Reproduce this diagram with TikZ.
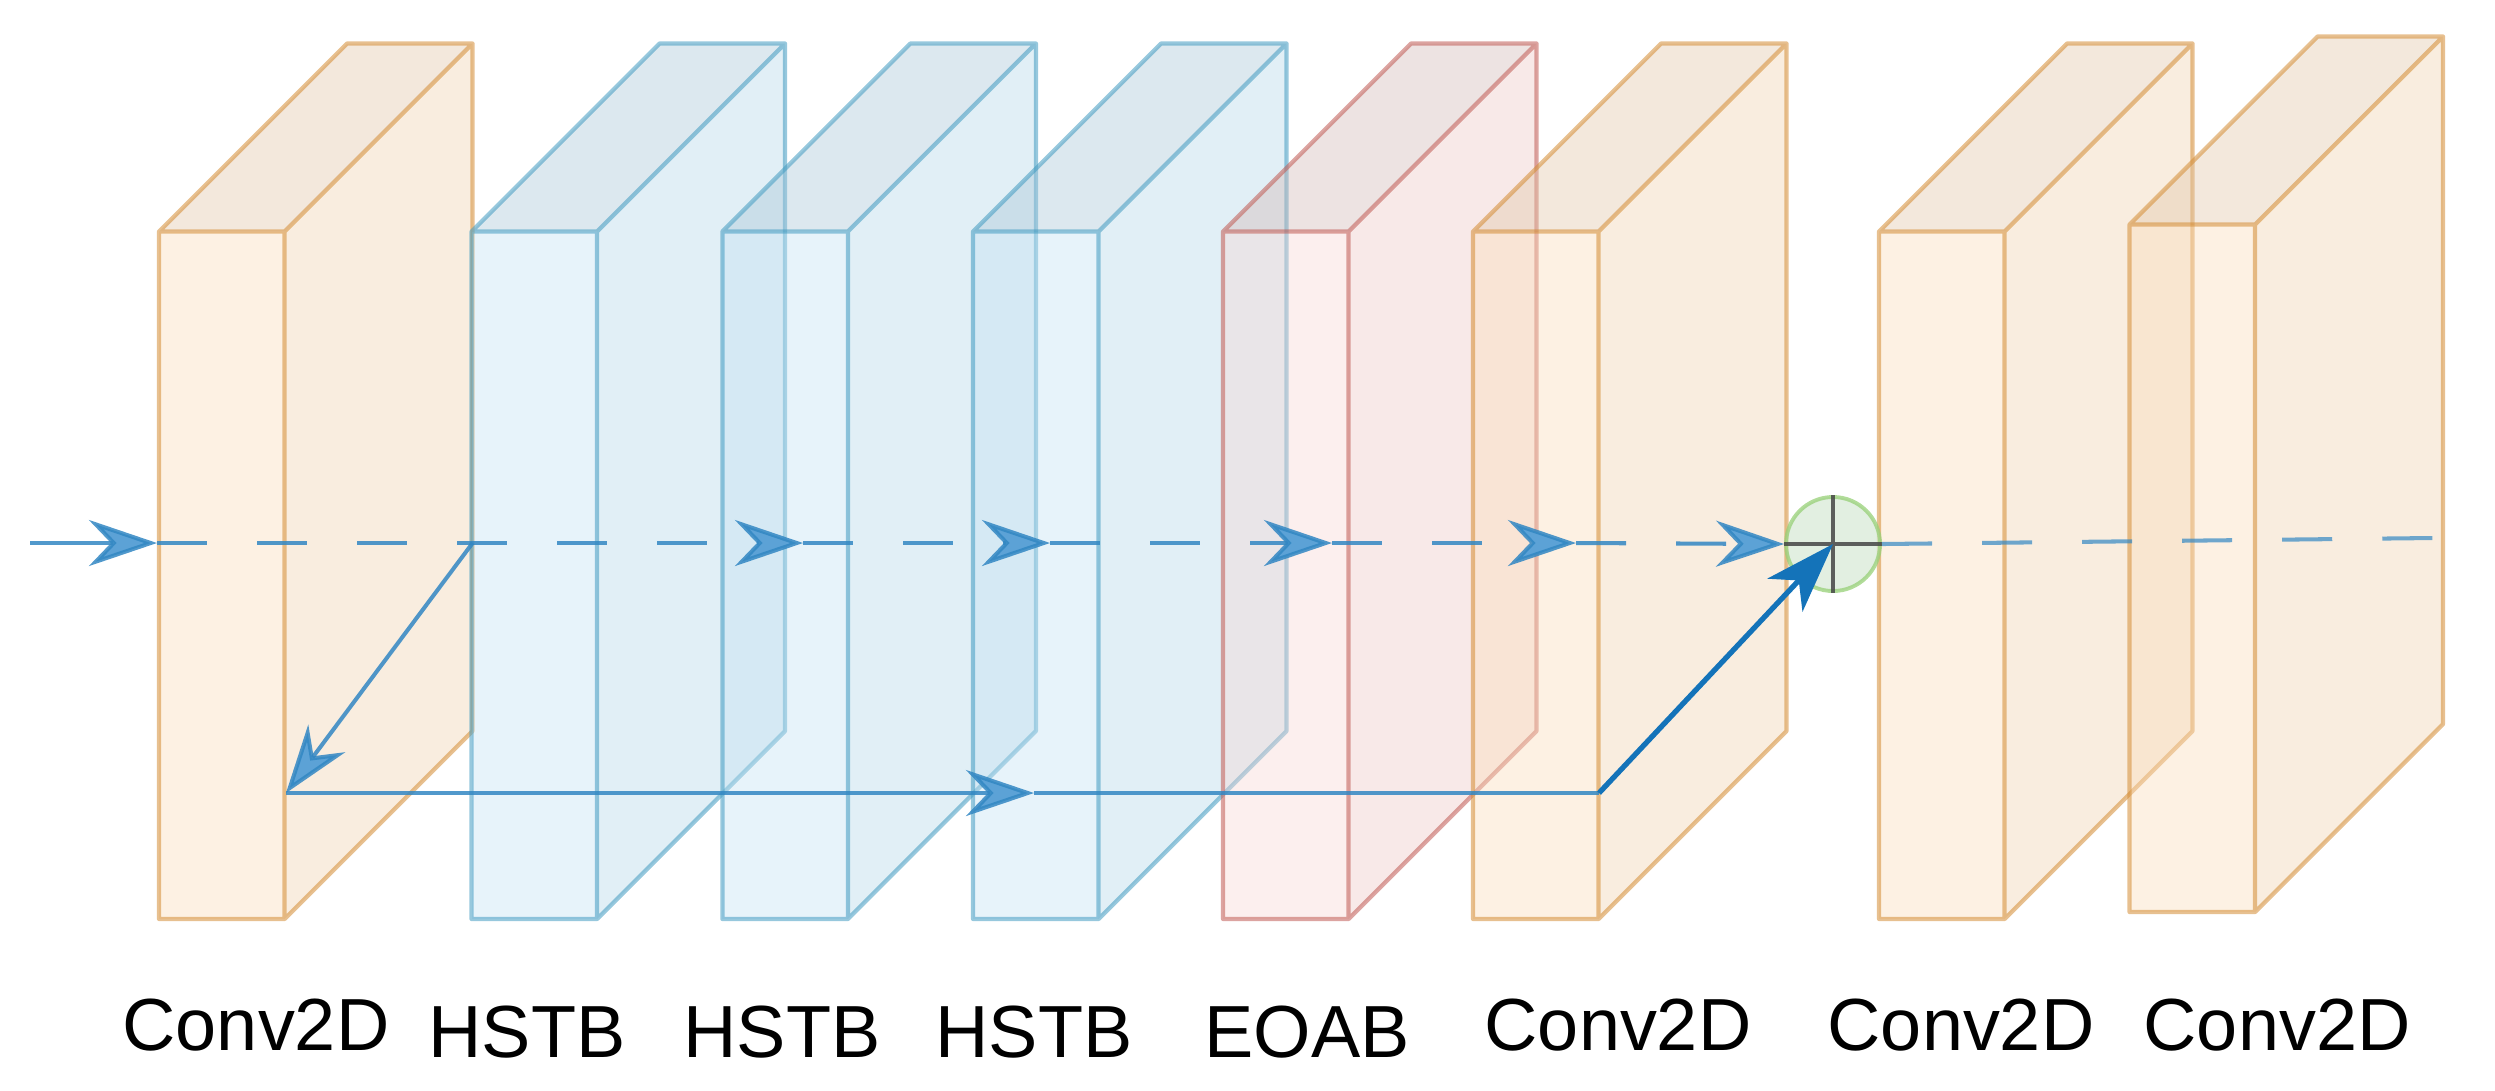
\documentclass[tikz,border=0pt]{standalone}
\usepackage{fontspec}
\newfontfamily\labfont{Liberation Sans}
\usetikzlibrary{arrows.meta}
% face colours (used with fill opacity 0.4)
\definecolor{oFc}{RGB}{250,220,185}
\definecolor{oSc}{RGB}{240,210,175}
\definecolor{oTc}{RGB}{225,198,168}
\definecolor{oLc}{RGB}{212,140,52}
\definecolor{bFc}{RGB}{195,225,242}
\definecolor{bSc}{RGB}{180,215,232}
\definecolor{bTc}{RGB}{168,198,215}
\definecolor{bLc}{RGB}{65,155,193}
\definecolor{rFc}{RGB}{247,215,212}
\definecolor{rSc}{RGB}{237,200,198}
\definecolor{rTc}{RGB}{210,185,183}
\definecolor{rLc}{RGB}{192,90,83}
\definecolor{lineblue}{RGB}{50,135,195}
\definecolor{arrfill}{RGB}{92,162,214}
\definecolor{strongblue}{RGB}{20,115,185}
\definecolor{sumfill}{RGB}{213,232,212}
\definecolor{sumline}{RGB}{151,208,119}
\definecolor{crossgray}{RGB}{70,70,70}
\newcommand{\myCube}[3]{%
  \begin{scope}[shift={(#1,#2)}]
    \fill[#3F] (0,0) rectangle (125.5,687.5);
    \fill[#3S] (125.5,0) -- (313.5,-188) -- (313.5,499.5) -- (125.5,687.5) -- cycle;
    \fill[#3T] (0,0) -- (188,-188) -- (313.5,-188) -- (125.5,0) -- cycle;
    \draw[#3L] (0,0) -- (188,-188) -- (313.5,-188) -- (313.5,499.5) -- (125.5,687.5) -- (0,687.5) -- cycle
               (0,0) -- (125.5,0) -- (313.5,-188)
               (125.5,0) -- (125.5,687.5);
  \end{scope}}
\begin{document}
\begin{tikzpicture}[x=0.01cm,y=-0.01cm,
  oF/.style={fill=oFc,fill opacity=0.4}, oS/.style={fill=oSc,fill opacity=0.4},
  oT/.style={fill=oTc,fill opacity=0.4}, oL/.style={draw=oLc,draw opacity=0.55,line width=1.2pt,line join=round},
  bF/.style={fill=bFc,fill opacity=0.4}, bS/.style={fill=bSc,fill opacity=0.4},
  bT/.style={fill=bTc,fill opacity=0.4}, bL/.style={draw=bLc,draw opacity=0.55,line width=1.2pt,line join=round},
  rF/.style={fill=rFc,fill opacity=0.4}, rS/.style={fill=rSc,fill opacity=0.4},
  rT/.style={fill=rTc,fill opacity=0.4}, rL/.style={draw=rLc,draw opacity=0.55,line width=1.2pt,line join=round},
  lab/.style={anchor=base,inner sep=0pt,font=\labfont\fontsize{21pt}{25pt}\selectfont},
  arr/.style={-{Stealth[length=0.68cm,width=0.46cm,inset=0.22cm,fill=arrfill]}},
  flow/.style={draw=lineblue,draw opacity=0.85,line width=1.15pt},
  flowdash/.style={flow,dash pattern=on 0.5cm off 0.5cm},
  flowlight/.style={draw=lineblue,draw opacity=0.7,line width=1.15pt,dash pattern=on 0.5cm off 0.5cm},
  strong/.style={draw=strongblue,line width=1.5pt,-{Stealth[length=0.7cm,width=0.48cm,inset=0.2cm,fill=strongblue]}},
  sumnode/.style={circle,minimum size=0.94cm,inner sep=0pt,draw=sumline,draw opacity=0.75,line width=1.1pt,fill=sumfill,fill opacity=0.7}
]
\useasboundingbox (0,0) rectangle (2495,1090);

% blocks
\myCube{159}{231.5}{o}
\myCube{471.5}{231.5}{b}
\myCube{722.4}{231.5}{b}
\myCube{973}{231.5}{b}
\myCube{1223}{231.5}{r}
\myCube{1473}{231.5}{o}
\myCube{1879}{231.5}{o}
\myCube{2129.5}{224.5}{o}

% labels
\node[lab] (l1) at (256,1050) {Conv2D};
\node[lab] (l2) at (527,1057) {HSTB};
\node[lab] (l3) at (782,1057) {HSTB};
\node[lab] (l4) at (1034,1057) {HSTB};
\node[lab] (l5) at (1307,1057) {EOAB};
\node[lab] (l6) at (1618,1050) {Conv2D};
\node[lab] (l7) at (1961,1050) {Conv2D};
\node[lab] (l8) at (2277,1050) {Conv2D};

% main path
\coordinate (in) at (30,543);
\coordinate (a1) at (157,543);
\coordinate (a2) at (803,543);
\coordinate (a3) at (1050,543);
\coordinate (a4) at (1332,543);
\coordinate (a5) at (1576,543);
\coordinate (out) at (2433,538);
\node[sumnode] (sum) at (1833,544) {};
\draw[crossgray,draw opacity=0.85,line width=1.3pt] (sum.north) -- (sum.south) (sum.west) -- (sum.east);

\draw[flow,arr] (in) -- (a1);
\draw[flowdash,arr] (a1) -- (a2);
\draw[flowdash,arr] (a2) -- (a3);
\draw[flowdash,arr] (a3) -- (a4);
\draw[flowdash,arr] (a4) -- (a5);
\draw[flowdash,arr] (a5) -- (sum.west);
\draw[flowlight] (sum.east) -- (out);

% skip connection
\coordinate (k0) at (472.6,543);
\coordinate (k1) at (286,793);
\coordinate (k2) at (1034,793);
\coordinate (k3) at (1599,793);
\draw[flow,arr] (k0) -- (k1);
\draw[flow,arr] (k1) -- (k2);
\draw[flow] (k2) -- (k3);
\draw[strong] (k3) -- (sum.center);
\end{tikzpicture}
\end{document}
